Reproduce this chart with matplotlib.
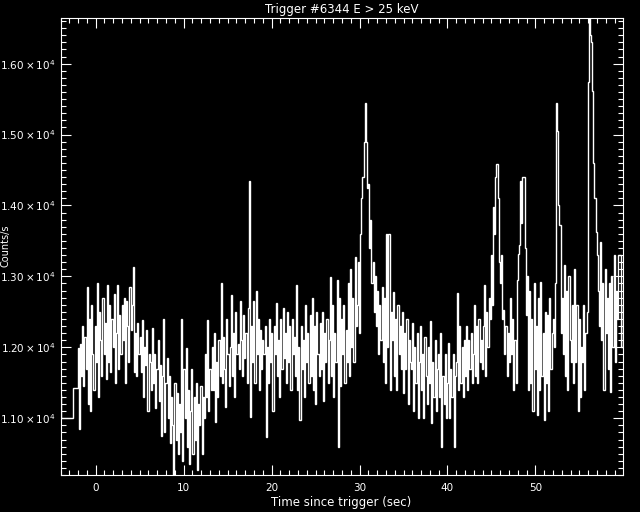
import numpy as np
import matplotlib
matplotlib.use('Agg')
import matplotlib.pyplot as plt
from matplotlib.ticker import MultipleLocator, FixedLocator, FuncFormatter

# wide pre-trigger bins (edges in s, counts/s)
pre_edges = [-4.1, -3.95, -2.56, -2.048]
pre_counts = [11330, 11010, 11430]

# 0.128 s bins starting at -2.048 s, one row per 1.024 s
bin_start = -2.048
bin_width = 0.128
rows = [
    [11990, 10850, 12050, 11600, 12300, 11450, 12150, 11700],
    [12850, 11200, 12400, 11100, 12600, 11900, 11400, 12300],
    [11800, 12900, 11300, 12500, 12100, 11600, 12700, 11900],
    [12350, 11550, 12880, 11800, 12600, 11650, 12400, 12000],
    [12750, 11500, 12200, 12880, 11700, 12450, 11900, 12600],
    [12100, 12700, 11500, 12650, 12300, 11800, 12850, 12250],
    [12600, 13130, 11650, 12200, 11600, 12350, 11900, 12150],
    [11650, 12380, 11300, 12000, 11750, 12250, 11100, 11900],
    [11800, 11400, 12270, 11500, 11900, 11150, 11700, 12100],
    [11250, 11750, 10750, 11600, 12400, 10800, 11500, 11850],
    [11000, 11600, 10650, 11300, 10900, 10150, 11500, 10700],
    [11350, 10500, 11200, 10800, 12400, 10400, 11700, 11000],
    [11990, 10600, 11400, 10350, 11100, 11700, 10500, 11300],
    [10700, 11500, 10270, 11200, 10900, 11450, 10500, 11300],
    [11000, 11900, 11300, 12380, 11100, 11700, 11400, 12000],
    [11400, 12200, 10950, 11800, 11300, 12100, 11600, 12900],
    [11500, 12150, 11700, 11160, 12400, 11900, 11450, 12000],
    [12740, 11600, 12200, 11300, 12500, 11900, 12050, 11700],
    [12660, 12100, 11600, 12450, 11850, 12200, 11500, 12550],
    [14340, 11020, 12300, 11800, 12650, 11500, 12800, 11900],
    [12400, 11400, 12250, 11700, 12100, 11900, 12300, 10730],
    [12000, 11500, 12400, 11800, 12200, 11100, 12300, 11900],
    [12630, 11600, 12100, 11300, 12400, 11700, 12550, 11850],
    [12200, 11500, 12500, 11800, 12300, 11400, 12400, 11900],
    [12150, 11600, 12880, 11400, 12000, 10980, 12300, 11700],
    [12100, 11300, 12600, 11800, 12200, 11500, 12450, 11600],
    [12700, 11400, 12300, 11200, 12500, 11900, 11600, 12350],
    [11700, 12500, 11250, 12200, 11800, 12400, 11500, 12100],
    [12990, 11600, 12600, 11300, 12200, 11800, 12950, 10600],
    [12700, 11450, 12400, 11900, 12600, 11500, 12250, 11800],
    [12900, 11600, 13100, 12000, 12700, 11800, 13270, 12300],
    [12600, 13200, 12200, 13600, 14100, 14400, 14900, 15450],
    [14900, 14250, 14300, 13400, 13800, 12900, 13200, 12500],
    [13000, 12300, 12800, 11900, 12600, 12100, 12850, 11800],
    [12700, 11500, 13600, 12000, 13600, 11400, 12500, 12100],
    [12780, 11600, 12400, 11400, 12600, 11900, 12300, 11700],
    [12500, 11350, 12200, 11700, 12400, 11200, 12100, 11800],
    [11700, 12340, 11100, 12000, 11500, 12200, 11000, 11800],
    [12300, 11400, 11900, 11000, 12150, 11600, 11200, 12000],
    [11500, 12370, 10930, 11800, 11300, 12100, 11100, 11700],
    [11900, 11300, 12200, 10600, 11600, 11200, 11900, 11000],
    [11500, 12060, 11000, 11700, 11300, 11900, 10600, 11600],
    [11800, 12760, 11400, 12300, 11500, 12000, 11300, 12100],
    [11600, 12300, 11400, 12100, 11700, 12200, 11500, 11900],
    [12600, 11600, 12300, 11500, 12400, 11800, 12100, 11700],
    [12300, 12880, 11600, 12500, 12000, 12700, 12400, 13300],
    [12600, 13980, 13600, 14400, 14590, 14100, 13200, 12900],
    [13300, 12400, 12520, 11900, 12300, 11600, 12200, 11800],
    [12700, 11900, 12400, 11400, 12100, 11500, 12950, 13320],
    [13440, 14350, 13750, 14400, 14400, 13400, 12450, 13000],
    [11400, 12800, 11500, 12400, 11100, 12900, 11700, 12300],
    [11040, 12700, 11400, 12920, 11600, 12200, 10970, 12500],
    [11500, 12450, 11100, 12700, 11700, 12200, 12400, 12000],
    [12900, 15440, 15050, 14000, 13720, 12200, 12700, 11900],
    [13160, 11600, 12800, 11400, 13000, 12100, 11800, 12600],
    [11500, 13100, 11800, 12600, 11100, 12400, 11300, 12000],
    [11800, 12600, 11400, 12200, 12500, 15740, 16900, 16400],
    [16300, 15610, 14600, 14100, 13620, 13300, 12800, 12300],
    [13480, 12100, 12900, 11400, 13100, 12200, 12700, 11700],
    [12900, 11370, 13000, 12000, 13300, 11800, 12800, 12400],
    [13300, 13300, 13300, 12000, 12600, 12900, 12200, 12500],
]

title = 'Trigger #6344 E > 25 keV'
xlabel = 'Time since trigger (sec)'
ylabel = 'Counts/s'
ytick_values = [11000, 12000, 13000, 14000, 15000, 16000]
xtick_values = [0, 10, 20, 30, 40, 50]

counts = np.array(pre_counts + [v for r in rows for v in r], dtype=float)
n_fast = len(counts) - len(pre_counts)
fast_edges = bin_start + bin_width * np.arange(n_fast + 1)
edges = np.concatenate([pre_edges[:-1], fast_edges])

fig = plt.figure(figsize=(6.4, 5.12), dpi=100, facecolor='black')
ax = fig.add_axes([60.5 / 640, 37 / 512, 562 / 640, 457.5 / 512])
ax.set_facecolor('black')

ax.stairs(counts, edges, color='white', linewidth=1.0, baseline=None)

ax.set_xlim(-4.0, 59.9)
ax.set_ylim(10200, 16650)

ax.xaxis.set_major_locator(FixedLocator(xtick_values))
ax.xaxis.set_minor_locator(MultipleLocator(1))
ax.yaxis.set_major_locator(FixedLocator(ytick_values))
ax.yaxis.set_minor_locator(MultipleLocator(100))
ax.yaxis.set_major_formatter(FuncFormatter(lambda v, p: r'$%.2f\times10^{4}$' % (v / 1e4)))

for s in ax.spines.values():
    s.set_color('white')
    s.set_linewidth(0.8)
ax.tick_params(which='both', direction='in', colors='white', top=True, right=True,
               width=0.8, labelsize=7.5, labelcolor='white')
ax.tick_params(which='major', length=7.5)
ax.tick_params(which='minor', length=3.8)
ax.tick_params(axis='x', pad=6)

ax.set_title(title, color='white', fontsize=8.5, pad=3)
ax.set_xlabel(xlabel, color='white', fontsize=8.5, labelpad=2)
fig.text(0.001, 0.52, ylabel, rotation=90, color='white', fontsize=7,
         ha='left', va='center')

fig.savefig('out.png', dpi=100, facecolor='black')
